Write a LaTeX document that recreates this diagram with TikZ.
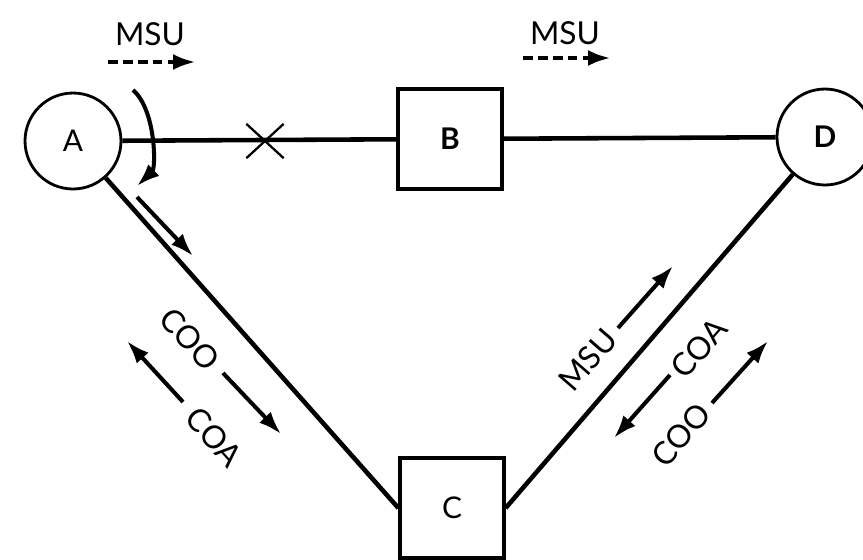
\documentclass[tikz,border=0pt]{standalone}
\usepackage{fontspec}
\setsansfont{Lato}
\usetikzlibrary{shapes.misc,arrows.meta,positioning}

\begin{document}
\begin{tikzpicture}[
    x=0.02cm, y=-0.02cm,
    font=\sffamily\fontsize{18}{20}\selectfont,
    station/.style={circle, draw, line width=1.6pt, minimum size=1.92cm, inner sep=0pt,
        font=\sffamily\fontsize{17}{19}\selectfont},
    relay/.style={rectangle, draw, line width=1.9pt, minimum width=2.08cm, minimum height=2cm, inner sep=0pt,
        font=\sffamily\fontsize{17}{19}\selectfont},
    link/.style={line width=2.6pt},
    flow/.style={-{Latex[length=0.46cm,width=0.32cm]}, line width=2.3pt},
    dashflow/.style={flow, line width=2.6pt, dash pattern=on 5.5pt off 3pt},
    msg/.style={inner sep=0pt}
]
    \useasboundingbox (0,0) rectangle (863,559);

    % Signalling points and transfer points
    \node[station] (A) at (73,141) {A};
    \node[relay] (B) at (450,139) {\bfseries B};
    \node[station] (D) at (825,137) {\bfseries D};
    \node[relay] (C) at (452,508) {C};

    % Failed link marker
    \node[cross out, draw, line width=1.3pt, minimum width=0.7cm, minimum height=0.64cm] (X) at (265,141) {};

    % Signalling links
    \draw[link] (A) -- (B);
    \draw[link] (B) -- (D);
    \draw[link] (A) -- (C.west);
    \draw[link] (D) -- (C.east);

    % Traffic on the normal route
    \node[msg] (msuA) at (150,34) {MSU};
    \coordinate (msuAs) at (108,62);
    \coordinate (msuAe) at (196,62);
    \draw[dashflow] (msuAs) -- (msuAe);

    \node[msg] (msuB) at (565,33) {MSU};
    \coordinate (msuBs) at (523,58);
    \coordinate (msuBe) at (611,58);
    \draw[dashflow] (msuBs) -- (msuBe);

    % Diversion at A
    \coordinate (turn1) at (133,90);
    \coordinate (turn2) at (137,186);
    \draw[flow] (turn1) .. controls (156,110) and (156,168) .. (turn2);
    \coordinate (div1) at (137,197);
    \coordinate (div2) at (193,256);
    \draw[flow] (div1) -- (div2);

    % Changeover on the A--C side
    \node[msg, rotate=-48] (cooL) at (190,339) {COO};
    \node[msg, rotate=-48] (coaL) at (214,437) {COA};
    \coordinate (l1s) at (183,402);
    \coordinate (l1e) at (127,341);
    \draw[flow] (l1s) -- (l1e);
    \coordinate (l2s) at (223,373);
    \coordinate (l2e) at (281,434);
    \draw[flow] (l2s) -- (l2e);

    % Changeover on the C--D side
    \node[msg, rotate=49] (msuR) at (588,360) {MSU};
    \node[msg, rotate=49] (coaR) at (699,348) {COA};
    \node[msg, rotate=49] (cooR) at (681,435) {COO};
    \coordinate (r1s) at (618,328);
    \coordinate (r1e) at (673,266);
    \draw[flow] (r1s) -- (r1e);
    \coordinate (r2s) at (670,375);
    \coordinate (r2e) at (614,438);
    \draw[flow] (r2s) -- (r2e);
    \coordinate (r3s) at (712,403);
    \coordinate (r3e) at (768,341);
    \draw[flow] (r3s) -- (r3e);
\end{tikzpicture}
\end{document}
